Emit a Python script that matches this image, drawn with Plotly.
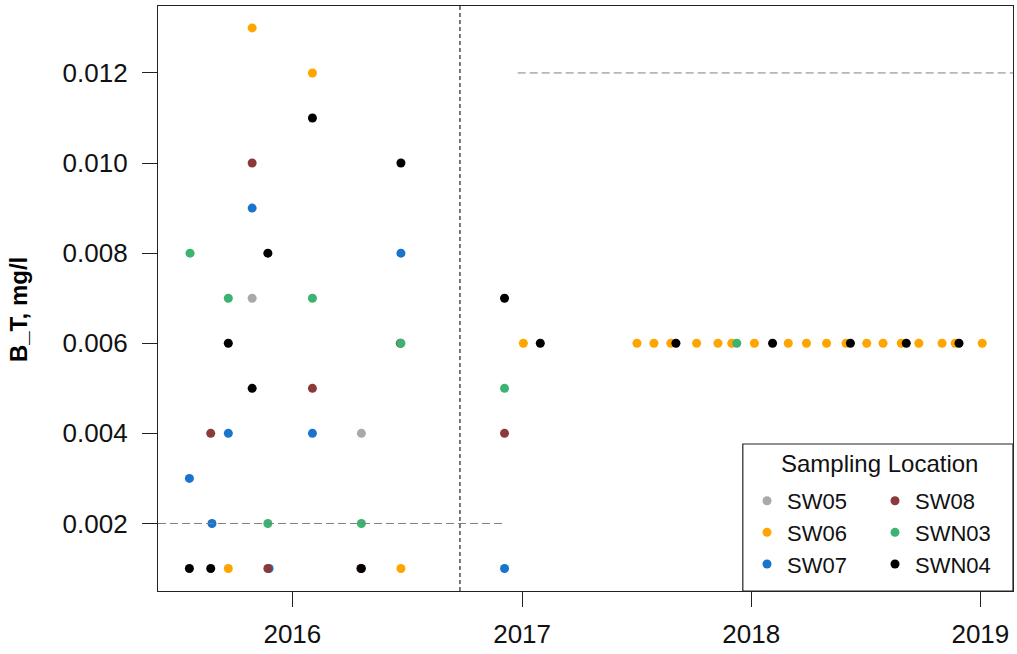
import plotly.graph_objects as go

# ---- data ----
sw05_dates = ["2015-10-29", "2016-04-20"]
sw05_vals = [0.007, 0.004]

sw06_dates = ["2015-09-21", "2015-10-29", "2016-02-02", "2016-06-22", "2017-01-03",
              "2017-07-03", "2017-07-30", "2017-08-26", "2017-10-06", "2017-11-09",
              "2017-12-01", "2018-01-06", "2018-03-01", "2018-03-30", "2018-05-01",
              "2018-06-01", "2018-07-04", "2018-07-30", "2018-08-28", "2018-09-25",
              "2018-11-01", "2018-11-22", "2019-01-04"]
sw06_vals = [0.001, 0.013, 0.012, 0.001, 0.006,
             0.006, 0.006, 0.006, 0.006, 0.006,
             0.006, 0.006, 0.006, 0.006, 0.006,
             0.006, 0.006, 0.006, 0.006, 0.006,
             0.006, 0.006, 0.006]

sw07_dates = ["2015-07-21", "2015-08-26", "2015-09-21", "2015-10-29", "2015-11-25",
              "2016-02-02", "2016-06-22", "2016-12-04"]
sw07_vals = [0.003, 0.002, 0.004, 0.009, 0.001, 0.004, 0.008, 0.001]

sw08_dates = ["2015-08-24", "2015-10-29", "2015-11-23", "2016-02-02", "2016-04-19",
              "2016-06-21", "2016-12-04"]
sw08_vals = [0.004, 0.010, 0.001, 0.005, 0.001, 0.006, 0.004]

swn03_dates = ["2015-07-22", "2015-09-21", "2015-11-23", "2016-02-02", "2016-04-20",
               "2016-06-22", "2016-12-04", "2017-12-09"]
swn03_vals = [0.008, 0.007, 0.002, 0.007, 0.002, 0.006, 0.005, 0.006]

swn04_dates = ["2015-07-21", "2015-08-24", "2015-09-21", "2015-10-29", "2015-11-23",
               "2016-02-02", "2016-04-20", "2016-06-22", "2016-12-04", "2017-01-30",
               "2017-09-03", "2018-02-04", "2018-06-08", "2018-09-05", "2018-11-28"]
swn04_vals = [0.001, 0.001, 0.006, 0.005, 0.008,
              0.011, 0.001, 0.010, 0.007, 0.006,
              0.006, 0.006, 0.006, 0.006, 0.006]

series_names = ["SW05", "SW06", "SW07", "SW08", "SWN03", "SWN04"]
series_colors = ["#A9A9A9", "#FFA500", "#1874CD", "#8B3A3A", "#3CB371", "#000000"]
series_dates = [sw05_dates, sw06_dates, sw07_dates, sw08_dates, swn03_dates, swn04_dates]
series_vals = [sw05_vals, sw06_vals, sw07_vals, sw08_vals, swn03_vals, swn04_vals]
series_legend = ["legend", "legend", "legend", "legend2", "legend2", "legend2"]

x_tick_vals = ["2016-01-01", "2017-01-01", "2018-01-01", "2019-01-01"]
x_tick_text = ["2016", "2017", "2018", "2019"]
y_tick_vals = [0.002, 0.004, 0.006, 0.008, 0.010, 0.012]
y_tick_text = ["0.002", "0.004", "0.006", "0.008", "0.010", "0.012"]

x_range = ["2015-06-01", "2019-02-22"]
y_range = [0.000501, 0.013486]

# reference lines
vline_date = "2016-09-24"
low_limit = 0.002
low_limit_end = "2016-12-02"
high_limit = 0.012
high_limit_start = "2016-12-25"

FONT = "Liberation Sans, Arial, sans-serif"

fig = go.Figure()
for name, color, d, v, lg in zip(series_names, series_colors, series_dates, series_vals, series_legend):
    fig.add_trace(go.Scatter(
        x=d, y=v, mode="markers", name=name,
        marker=dict(color=color, size=9, line=dict(width=0)),
        legend=lg,
    ))

shapes = [
    # legend box
    dict(type="rect", xref="paper", yref="paper", x0=0.684, x1=1.0, y0=0.0, y1=0.2513,
         fillcolor="white", line=dict(color="#222222", width=1.2), layer="below"),
    dict(type="line", xref="x", yref="paper", x0=vline_date, x1=vline_date, y0=0, y1=1,
         line=dict(color="#222222", width=1.2, dash="4px,3px")),
    dict(type="line", xref="x", yref="y", x0=x_range[0], x1=low_limit_end, y0=low_limit, y1=low_limit,
         line=dict(color="#808080", width=1, dash="8px,4px")),
    dict(type="line", xref="x", yref="y", x0=high_limit_start, x1=x_range[1], y0=high_limit, y1=high_limit,
         line=dict(color="#808080", width=1, dash="8px,4px")),
]

annotations = [
    dict(text="Sampling Location", xref="paper", yref="paper", x=0.8433, y=0.2171,
         xanchor="center", yanchor="middle", showarrow=False,
         font=dict(family=FONT, size=24, color="#111111")),
    dict(text="<b>B_T, mg/l</b>", xref="paper", yref="paper", x=-0.1637, y=0.4803,
         xanchor="center", yanchor="middle", showarrow=False, textangle=-90,
         font=dict(family=FONT, size=24, color="#000000")),
]

legend_common = dict(
    xanchor="left", yanchor="top", bgcolor="rgba(0,0,0,0)", borderwidth=0,
    font=dict(family=FONT, size=22, color="#111111"), orientation="v",
    tracegroupgap=0, itemclick=False,
)

fig.update_layout(
    width=1017, height=654,
    margin=dict(l=158, r=4, t=6, b=63),
    paper_bgcolor="white", plot_bgcolor="white",
    font=dict(family=FONT, color="#000000"),
    showlegend=True,
    legend=dict(x=0.6889, y=0.1898, **legend_common),
    legend2=dict(x=0.8386, y=0.1898, **legend_common),
    shapes=shapes,
    annotations=annotations,
    xaxis=dict(
        type="date", range=x_range, tickvals=x_tick_vals, ticktext=x_tick_text,
        showgrid=False, zeroline=False, showline=True, mirror=True,
        linecolor="#222222", linewidth=1.2, ticks="outside", ticklen=15,
        tickwidth=1.2, tickcolor="#222222", ticklabelstandoff=5,
        tickfont=dict(family=FONT, size=26, color="#111111"),
    ),
    yaxis=dict(
        range=y_range, tickvals=y_tick_vals, ticktext=y_tick_text,
        showgrid=False, zeroline=False, showline=True, mirror=True,
        linecolor="#222222", linewidth=1.2, ticks="outside", ticklen=15,
        tickwidth=1.2, tickcolor="#222222", ticklabelstandoff=9,
        tickfont=dict(family=FONT, size=26, color="#111111"),
    ),
)

fig.write_html("out.html", config={"displayModeBar": False},
               post_script="document.body.style.margin='0';")
